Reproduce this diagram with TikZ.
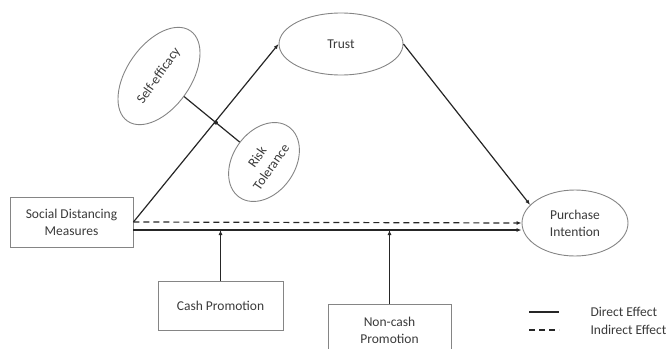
\documentclass[tikz,border=0pt]{standalone}
\usepackage{fontspec}
\setmainfont{Carlito}
\usetikzlibrary{shapes.geometric,arrows.meta,calc}
\definecolor{txt}{HTML}{3A3A3A}
\definecolor{edge}{HTML}{858585}
\definecolor{ln}{HTML}{262626}
\begin{document}
\begin{tikzpicture}[x=1pt,y=-1pt,
  every node/.style={text=txt,font=\fontsize{13.5}{17}\selectfont,align=center},
  boxnode/.style={draw=edge,line width=0.9pt,rectangle,inner sep=0pt},
  ellnode/.style={draw=edge,line width=0.9pt,ellipse,inner sep=0pt},
  conn/.style={draw=ln,line width=1.2pt,-{Latex[length=5pt,width=4pt]}},
  plain/.style={draw=ln,line width=1.2pt},
  dconn/.style={draw=ln,line width=1.2pt,dash pattern=on 6pt off 4pt,-{Latex[length=5pt,width=4pt]}}]
\clip (0,0) rectangle (669,348);
\node[boxnode,minimum width=123pt,minimum height=50pt] (sdm) at (71.5,222) {Social Distancing\\Measures};
\node[ellnode,minimum width=124pt,minimum height=62pt] (trust) at (341,44) {Trust};
\node[ellnode,minimum width=106pt,minimum height=66pt] (pi) at (575,223) {Purchase\\Intention};
\node[ellnode,minimum width=110pt,minimum height=64pt,rotate=55] (se) at (159,76) {Self-efficacy};
\node[ellnode,minimum width=86pt,minimum height=62pt,rotate=55] (rt) at (264,162) {Risk\\Tolerance};
\node[boxnode,minimum width=125pt,minimum height=49pt] (cash) at (220.5,305.5) {Cash Promotion};
\node[boxnode,minimum width=123pt,minimum height=52pt] (noncash) at (389.5,330) {Non-cash\\Promotion};
% connectors
\draw[conn] (sdm.east) -- (trust.west);
\draw[conn] (trust.east) -- (pi.158);
\draw[dconn] (sdm.east) -- (pi.west);
\coordinate (lowS) at ([yshift=-8pt]sdm.east);
\coordinate (lowE) at ([yshift=-7pt]pi.west);
\draw[conn] (lowS) -- (lowE);
\draw[conn] (cash.north) -- (cash.north |- lowS);
\draw[conn] (noncash.north) -- (noncash.north |- lowS);
\draw[plain] (se) -- (rt);
\fill[ln] ($(se)!0.542!(rt)$) circle (2pt);
% legend
\coordinate (l1a) at (529,312); \coordinate (l1b) at (559,312);
\coordinate (l2a) at (529,330); \coordinate (l2b) at (559,330);
\draw[plain] (l1a) -- (l1b);
\draw[plain,dash pattern=on 6pt off 4pt] (l2a) -- (l2b);
\node[anchor=west] (ld) at (587,312) {Direct Effect};
\node[anchor=west] (li) at (587,330) {Indirect Effect};
\end{tikzpicture}
\end{document}
